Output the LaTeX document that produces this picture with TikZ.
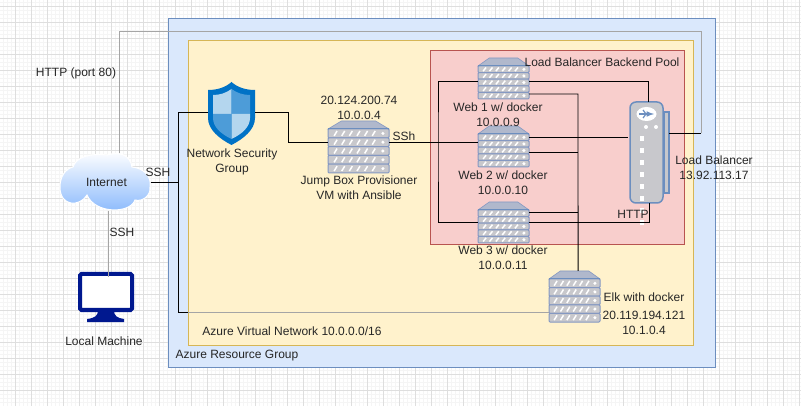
\documentclass[tikz,border=0pt]{standalone}
\usepackage{fontspec}
\setmainfont{Liberation Sans}
\usetikzlibrary{positioning,calc}
\definecolor{groupblue}{RGB}{218,232,252}
\definecolor{groupedge}{RGB}{108,142,191}
\definecolor{vnetyellow}{RGB}{255,242,204}
\definecolor{vnetedge}{RGB}{214,182,86}
\definecolor{poolred}{RGB}{248,206,204}
\definecolor{pooledge}{RGB}{184,84,80}
\definecolor{rackgray}{RGB}{200,200,204}
\definecolor{rackedge}{RGB}{132,152,194}
\definecolor{roofgray}{RGB}{176,184,204}
\definecolor{monitorblue}{RGB}{0,24,143}
\definecolor{shieldblue}{RGB}{0,114,198}
\definecolor{shieldlight}{RGB}{180,214,238}
\definecolor{shieldmid}{RGB}{77,156,216}
\definecolor{cloudblue}{RGB}{136,184,252}
\definecolor{wiregray}{RGB}{165,165,165}
\begin{document}
\begin{tikzpicture}[
                x=1pt,y=-1pt,
                label/.style={font=\fontsize{12}{15}\selectfont,align=center,inner sep=0pt,text=black!85},
                zone/.style={draw,line width=1pt,anchor=north west,inner sep=0pt,outer sep=0pt},
                wire/.style={draw=black,line width=0.9pt},
                grayline/.style={draw=wiregray,line width=1pt},
                pics/server/.style 2 args={code={
                    % roof, then five racks
                    \fill[roofgray,draw=rackedge,line width=0.6pt] (0,8) -- (0.22*#1,0) -- (0.78*#1,0) -- (#1,8) -- cycle;
                    \foreach \r in {0,1,2,3,4}{
                        \pgfmathsetmacro{\rowh}{(#2-8)/5}
                        \pgfmathsetmacro{\rowy}{8+\r*\rowh}
                        \draw[fill=rackgray,draw=rackedge,line width=1pt,rounded corners=1pt] (0,\rowy) rectangle (#1,\rowy+\rowh);
                        \foreach \s in {0,1,2,3,4,5}{
                            \pgfmathsetmacro{\sx}{0.1*#1+\s*0.125*#1}
                            \draw[white,line width=1.5pt] (\sx,\rowy+0.78*\rowh) -- (\sx+3,\rowy+0.22*\rowh);
                        }
                        \fill[white] (0.9*#1,\rowy+0.5*\rowh) circle (1.7);
                    }
                    \draw[groupedge,line width=1pt] (0,8) -- (#1,8);
                    \coordinate (-west) at (0,0);
                    \coordinate (-east) at (#1,0);
                    \coordinate (-north) at (0.57*#1,0);
                }}
            ]
                \useasboundingbox (0,0) rectangle (801,406);
                % Background grid
                \begin{scope}
                \clip (0,0) rectangle (801,406);
                \fill[white] (0,0) rectangle (801,406);
                \foreach \i in {0,...,200} {\draw[black!4,line width=0.5pt] (\i*4-1,0) -- (\i*4-1,406);}
                \foreach \i in {0,...,101} {\draw[black!4,line width=0.5pt] (0,\i*4+2) -- (801,\i*4+2);}
                \foreach \i in {0,...,50} {\draw[black!13,line width=0.8pt] (\i*16-1,0) -- (\i*16-1,406);}
                \foreach \i in {0,...,25} {\draw[black!13,line width=0.8pt] (0,\i*16+6) -- (801,\i*16+6);}
                \end{scope}

                % Azure zones
                \node[zone,draw=groupedge,fill=groupblue,minimum width=547,minimum height=348] (group) at (168,19) {};
                \node[zone,draw=vnetedge,fill=vnetyellow,minimum width=505,minimum height=304] (vnet) at (188,41) {};
                \node[zone,draw=pooledge,fill=poolred,minimum width=254,minimum height=194] (pool) at (430,51) {};

                % Internet and local machine
                \shade[top color=white,bottom color=cloudblue,draw=white,line width=1pt] (87,195) .. controls (80,207) and (60,207) .. (60,187) .. controls (60,177) and (65,169) .. (73,167) .. controls (76,157) and (90,153) .. (107,155) .. controls (120,151) and (130,155) .. (132,167) .. controls (143,168) and (152,176) .. (150,187) .. controls (151,196) and (142,202) .. (135,200) .. controls (130,214) and (95,214) .. (87,195) -- cycle;
                \node[label,minimum width=88,minimum height=57] (internet) at (106.5,182) {Internet};
                \node[draw=monitorblue,line width=4pt,rounded corners=1.5pt,fill=white,minimum width=52,minimum height=36,inner sep=0pt,outer sep=0pt] (monitor) at (106,292) {};
                \fill[monitorblue] (98,310) -- (114,310) .. controls (114,316) and (117,318) .. (124,319) -- (124,322) -- (87,322) -- (87,319) .. controls (95,318) and (98,316) .. (98,310) -- cycle;

                % Network security group
                \coordinate (nsgwest) at (208,112);
                \coordinate (nsgeast) at (255,112);
                \fill[shieldblue] (231.5,82) .. controls (237,87) and (245,90) .. (255,90) -- (255,118) .. controls (255,130) and (243,139) .. (231.5,145) .. controls (220,139) and (208,130) .. (208,118) -- (208,90) .. controls (218,90) and (226,87) .. (231.5,82) -- cycle;
                \fill[shieldlight] (231.5,89) .. controls (226,93) and (220,95) .. (213,95) -- (213,114) -- (231.5,114) -- cycle;
                \fill[shieldmid] (231.5,89) .. controls (237,93) and (243,95) .. (250,95) -- (250,114) -- (231.5,114) -- cycle;
                \fill[shieldmid] (213,114) -- (231.5,114) -- (231.5,139) .. controls (221,134) and (213,127) .. (213,118) -- cycle;
                \fill[shieldlight] (250,114) -- (231.5,114) -- (231.5,139) .. controls (242,134) and (250,127) .. (250,118) -- cycle;

                % Servers
                \pic (jump) at (328,121) {server={61}{52}};
                \pic (web1) at (478,58) {server={51}{41}};
                \pic (web2) at (478,126) {server={51}{41}};
                \pic (web3) at (478,202) {server={51}{41}};
                \pic (elk) at (549,271) {server={51}{51}};

                % Load balancer
                \node[draw=groupedge,line width=1.5pt,fill=rackgray,anchor=north west,minimum width=5,minimum height=81,inner sep=0pt,outer sep=0pt] (lbplate) at (664,112) {};
                \node[draw=groupedge,line width=1.5pt,fill=rackgray,rounded corners=6pt,anchor=north west,minimum width=33,minimum height=101,inner sep=0pt,outer sep=0pt] (lb) at (630,102) {};
                \fill[white] (646.5,114) ellipse (10 and 7);
                \draw[groupedge,line width=1.5pt,-latex] (639,114) -- (654,114);
                \draw[groupedge,line width=1.2pt] (643,110) -- (646,114) -- (643,118);
                \foreach \d in {0,1} {\fill[white] (646+\d*10,127) circle (2);}
                \foreach \d in {0,...,7} {\fill[white] (640,\d*12+136) rectangle (644,\d*12+141);}

                % Routing points
                \coordinate (httpleft) at (119,32);
                \coordinate (httpright) at (701,32);
                \coordinate (httpdown) at (701,133);
                \coordinate (sshdrop) at (108.5,277);
                \coordinate (nsgtrunk) at (178,112);
                \coordinate (vnetedgept) at (188,312);
                \coordinate (jumpbend) at (288,142);
                \coordinate (lefttrunk) at (438,142);
                \coordinate (elktrunk) at (578,94);
                \coordinate (web1row) at (478,81);
                \coordinate (web2row) at (478,137);
                \coordinate (web2low) at (478,152);
                \coordinate (web3row) at (478,222);
                \coordinate (web3up) at (478,212);
                \coordinate (lbtop) at (648,102);
                \coordinate (lbbottom) at (649,203);
                \coordinate (lbleft) at (628,137);

                % Connections
                \draw[grayline] (httpleft|-internet.north) -- (httpleft) -- (httpright) -- (httpdown);
                \draw[wire] (httpdown) -- (lbplate.east|-httpdown);
                \draw[grayline,line width=0.8pt] (sshdrop|-internet.south) -- (sshdrop);
                \draw[wire] (internet.east) -- (nsgtrunk|-internet.east);
                \draw[wire] (nsgwest) -- (nsgtrunk) |- (vnetedgept);
                \draw[grayline,line width=0.8pt] (vnetedgept) -- (elk-west|-vnetedgept);
                \draw[wire] (nsgeast) -| (jumpbend) -- (jump-west|-jumpbend);
                \draw[wire] (jump-east|-jumpbend) -- (web1-west|-jumpbend);
                \draw[wire] (web1row) -| (lefttrunk) |- (web3row);
                \draw[wire] (web1-east|-web1row) -| (lbtop);
                \draw[wire] (web2-east|-web2row) -- (lbleft);
                \draw[wire] (web3-east|-web3row) -| (lbbottom);
                \draw[wire] (web1-east|-elktrunk) -- (elktrunk) -- (elk-north);
                \draw[wire] (web2-east|-web2low) -- (elktrunk|-web2low);
                \draw[wire] (web3-east|-web3up) -- (elktrunk|-web3up);

                % Labels
                \node[label] (httplbl) at (76,73) {HTTP (port 80)};
                \node[label] (sshlbl) at (158,172) {SSH};
                \node[label] (sshlocal) at (122,232) {SSH};
                \node[label] (locallbl) at (104,341) {Local Machine};
                \node[label] (nsglbl) at (232,161.5) {Network Security\\Group};
                \node[label] (jumpip) at (359,107.5) {20.124.200.74\\10.0.0.4};
                \node[label] (sshjump) at (404,136) {SSh};
                \node[label] (jumplbl) at (359,187.5) {Jump Box Provisioner\\VM with Ansible};
                \node[label] (web1lbl) at (498,114.5) {Web 1 w/ docker\\10.0.0.9};
                \node[label] (web2lbl) at (503,182.5) {Web 2 w/ docker\\10.0.0.10};
                \node[label] (web3lbl) at (503,257.5) {Web 3 w/ docker\\10.0.0.11};
                \node[label] (elklbl) at (644,297) {Elk with docker};
                \node[label] (elkip) at (644,322.5) {20.119.194.121\\10.1.0.4};
                \node[label] (lblbl) at (714,167.5) {Load Balancer\\13.92.113.17};
                \node[label] (httplb) at (633,214) {HTTP};
                \node[label] (poollbl) at (602,62) {Load Balancer Backend Pool};
                \node[label] (vnetlbl) at (292,331) {Azure Virtual Network 10.0.0.0/16};
                \node[label] (grouplbl) at (237,356) {Azure Resource Group};
            \end{tikzpicture}
\end{document}
